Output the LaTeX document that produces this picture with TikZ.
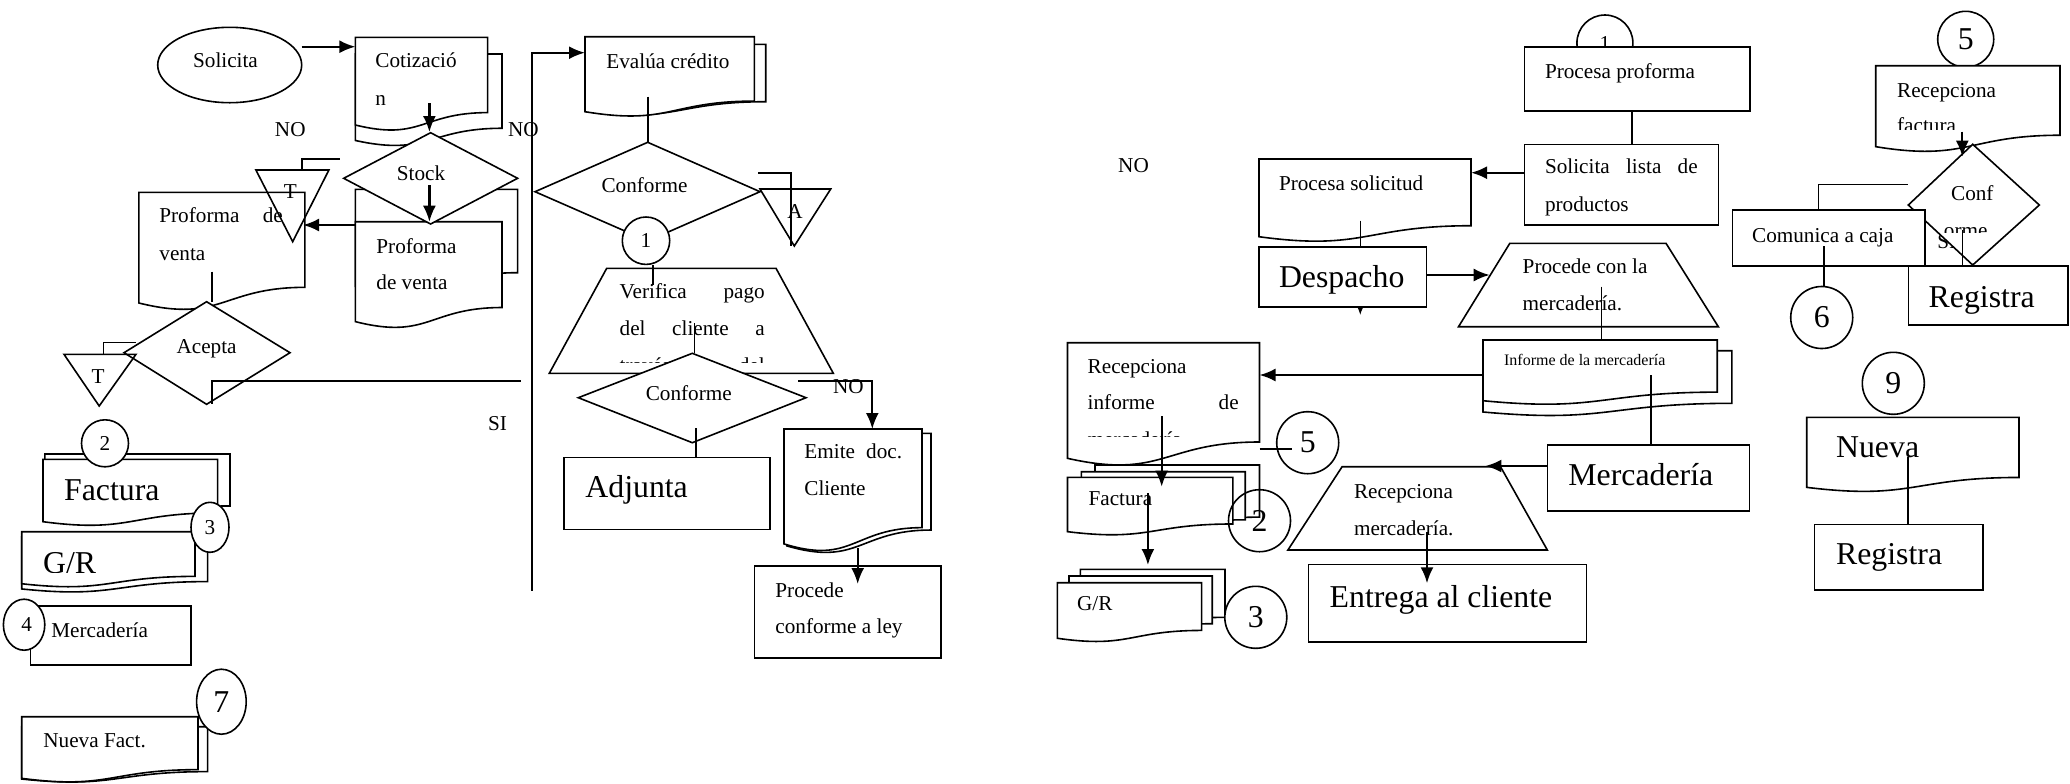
\documentclass[tikz,border=0pt]{standalone}
\usepackage{fontspec}
\setmainfont{Liberation Serif}
\usetikzlibrary{arrows.meta,shapes.geometric}
\newcommand\fN{\fontsize{10.6}{12}\selectfont}
\newcommand\fL{\fontsize{15.9}{18}\selectfont}
\newcommand\fS{\fontsize{8}{9.6}\selectfont}
\tikzset{
 shp/.style={draw=black, line width=0.8pt, fill=white},
 ln/.style={draw=black, line width=0.8pt},
 arr/.style={draw=black, line width=1.1pt, -{Latex[length=8pt,width=6.5pt]}},
 rbox/.style={shp, rectangle, inner sep=0pt},
 cbox/.style={shp, circle, inner sep=0pt, font=\fL},
 tN/.style={inner sep=0pt, anchor=base west, yshift=-3.5pt, font=\fN},
 tNc/.style={inner sep=0pt, anchor=base, yshift=-3.5pt, font=\fN},
 tL/.style={inner sep=0pt, anchor=base west, yshift=-5.3pt, font=\fL},
 tS/.style={inner sep=0pt, anchor=base west, yshift=-2.7pt, font=\fS},
}
% document shape: name, x1, y1, x2, h
\newcommand\docsh[5]{%
 \pgfmathsetmacro\dA{#3+0.802*#5}%
 \pgfmathsetmacro\dB{#3+1.1075*#5}%
 \pgfmathsetmacro\dC{#3+0.934*#5}%
 \pgfmathsetmacro\dM{(#2+#4)/2}%
 \draw[shp] (#2,#3) -- (#4,#3) -- (#4,\dA) .. controls (\dM,\dA) and (\dM,\dB) .. (#2,\dC) -- cycle;
 \coordinate (#1) at (\dM,#3);}
\begin{document}
\begin{tikzpicture}[x=0.5pt,y=-0.5pt]
\useasboundingbox (0,0) rectangle (2070,783);
% ================= LEFT =================
\node[shp, ellipse, minimum width=72pt, minimum height=37.7pt, inner sep=0pt] (solicita) at (229.7,65) {};
\node[tNc] (tsol) at (225.5,60) {Solicita};
\coordinate (a1s) at (301.7,46.7); \coordinate (a1e) at (355.4,46.7);
\draw[arr] (a1s) -- (a1e);
\docsh{cotb}{355.4}{54}{502}{92.6}
\docsh{cotf}{355.4}{37.3}{487.6}{93.9}
\node[tN] (tcot1) at (375,60) {Cotizació};
\node[tN] (tcot2) at (375,98.3) {n};
\docsh{prb}{355.4}{189.3}{517.6}{104}
\docsh{prf}{355.4}{221.7}{502}{107}
\node[tN] (tpr1) at (376,246) {Proforma};
\node[tN] (tpr2) at (376,282.7) {de venta};
\coordinate (stkW) at (343.7,178.3); \coordinate (stkN) at (430.6,132.7);
\coordinate (stkE) at (517.6,178.3); \coordinate (stkS) at (430.6,224);
\draw[shp] (stkW) -- (stkN) -- (stkE) -- (stkS) -- cycle;
\node[tNc] (tstk) at (421,173.3) {Stock};
\coordinate (cotIn) at (429.4,103.3); \coordinate (stkTop) at (429.4,132);
\draw[arr] (cotIn) -- (stkTop);
\coordinate (stkIn) at (429.4,185); \coordinate (prfTop) at (429.4,221.7);
\draw[arr] (stkIn) -- (prfTop);
\docsh{pl}{138.8}{192.3}{304.8}{118.5}
\node[tN] (tpl1) at (159,215) {\makebox[61.7pt][s]{Proforma de}};
\node[tN] (tpl2) at (159,253.3) {venta};
\coordinate (t1a) at (255.9,170); \coordinate (t1b) at (328.9,170); \coordinate (t1c) at (292.7,241.7);
\draw[ln] (t1a) -- (t1b) -- (t1c) -- cycle;
\node[tNc] (tt1) at (290.3,191) {T};
\coordinate (t1s) at (301.7,170); \coordinate (t1e) at (340.2,159);
\draw[ln] (t1s) |- (t1e);
\coordinate (prW) at (355.4,225); \coordinate (plE) at (303,225);
\draw[arr] (prW) -- (plE);
\coordinate (plIn) at (211.8,271.7); \coordinate (acN) at (206.6,301.7);
\draw[ln] (plIn) -- (211.8,301.7);
\coordinate (acW) at (124,352.7); \coordinate (acE) at (290,352.7); \coordinate (acS) at (206.6,404.3);
\draw[shp] (acW) -- (acN) -- (acE) -- (acS) -- cycle;
\node[tNc] (tac) at (206.6,346.7) {Acepta};
\coordinate (t2a) at (64,354.3); \coordinate (t2b) at (136,354.3); \coordinate (t2c) at (99.2,406);
\draw[ln] (t2a) -- (t2b) -- (t2c) -- cycle;
\node[tNc] (tt2) at (98,376) {T};
\coordinate (t2s) at (103.3,354.3); \coordinate (t2e) at (136,342.3);
\draw[ln] (t2s) |- (t2e);
\coordinate (hR) at (520.7,381); \coordinate (hL) at (211.8,381); \coordinate (hD) at (211.8,404.3);
\draw[ln] (hR) -- (hL) -- (hD);
\coordinate (vBot) at (532,590.7); \coordinate (vTop) at (532,52.7); \coordinate (evW) at (585,52.7);
\draw[arr] (vBot) -- (vTop) -- (evW);
\node[tNc] (no1) at (290.3,129.3) {NO};
\node[tNc] (no2) at (523.4,129.3) {NO};
\node[tNc] (si1) at (497.6,423.3) {SI};
% Factura / G/R / Mercaderia / Nueva Fact.
\docsh{fb}{44.8}{454}{230}{64.8}
\docsh{ff}{43}{459.3}{217.6}{66.8}
\node[tL] (tfac) at (63.7,490) {Factura};
\node[cbox, font=\fN, minimum size=23.5pt] (c2l) at (105,443.3) {2};
\docsh{gb}{21.7}{537}{207.6}{55.6}
\docsh{gf}{21.7}{531.7}{195}{55.7}
\begin{scope}
\clip (21.7,531.7) rectangle (195,572.5);
\node[tL] (tgr) at (42.7,562.5) {G/R};
\end{scope}
\node[shp, ellipse, inner sep=0pt, minimum width=19pt, minimum height=25pt, font=\fN] (c3l) at (210,527.3) {3};
\node[rbox, minimum width=80.4pt, minimum height=29.65pt] (merl) at (110.7,635.35) {};
\node[tN] (tmerl) at (51,630) {Mercadería};
\node[shp, ellipse, inner sep=0pt, minimum width=20.7pt, minimum height=25.5pt, font=\fN] (c4l) at (24.1,624.7) {\hspace{2.5pt}4};
\docsh{nfb}{21.7}{726.7}{207.6}{56}
\docsh{nff}{21.7}{716.7}{198}{66}
\node[tN] (tnf) at (43,740) {Nueva Fact.};
\node[shp, ellipse, inner sep=0pt, minimum width=24.8pt, minimum height=32.5pt, font=\fL] (c7l) at (221.4,701.7) {7};
% ================= MIDDLE =================
\docsh{evb}{585}{44.3}{765.7}{71.6}
\docsh{evf}{585}{36.7}{754.3}{80.3}
\node[tN] (tev) at (606,61.7) {Evalúa crédito};
\coordinate (evIn) at (647.7,96.7); \coordinate (cf1N) at (647.7,142.3);
\draw[ln] (evIn) -- (cf1N);
\coordinate (cf1W) at (535,191.7); \coordinate (cf1E) at (760,191.7); \coordinate (cf1S) at (647.7,241);
\draw[shp] (cf1W) -- (cf1N) -- (cf1E) -- (cf1S) -- cycle;
\node[tNc] (tcf1) at (644.5,185) {Conforme};
\coordinate (taA) at (760,189); \coordinate (taB) at (830.7,189); \coordinate (taC) at (794.3,246);
\draw[ln] (taA) -- (taB) -- (taC) -- cycle;
\node[tNc] (tA) at (795,211.7) {A};
\coordinate (laS) at (758.3,172.7); \coordinate (laE) at (791,246);
\draw[ln] (laS) -| (laE);
\node[cbox, font=\fN, minimum size=23.7pt] (c1m) at (646,240.7) {1};
\coordinate (trA) at (606.7,268.3); \coordinate (trB) at (776,268.3);
\coordinate (trC) at (833.3,373.3); \coordinate (trD) at (549.3,373.3);
\draw[shp] (trA) -- (trB) -- (trC) -- (trD) -- cycle;
\node[tN] (tv1) at (619.3,291.7) {\makebox[72.5pt][s]{Verifica pago}};
\node[tN] (tv2) at (619.3,328.3) {\makebox[72.5pt][s]{del cliente a}};
\begin{scope}
\clip (549.3,340) rectangle (833.3,362.7);
\node[tN] (tv3) at (619.3,365) {\makebox[72.5pt][s]{través del}};
\end{scope}
\coordinate (c1mS) at (652.7,265); \coordinate (vIn) at (652.7,285);
\draw[ln] (c1mS) -- (vIn);
\coordinate (vIn2) at (694.3,323.3); \coordinate (cf2N) at (692.3,353.3);
\draw[ln] (vIn2) -- (694.3,353.3);
\coordinate (cf2W) at (578.3,397.7); \coordinate (cf2E) at (806,397.7); \coordinate (cf2S) at (692.3,442.7);
\draw[shp] (cf2W) -- (cf2N) -- (cf2E) -- (cf2S) -- cycle;
\node[tNc] (tcf2) at (688.8,393.3) {Conforme};
\docsh{emb}{787}{433.3}{931}{120.6}
\docsh{emf}{784}{429}{922}{123}
\node[tN] (tem1) at (804,451.7) {\makebox[48.85pt][s]{Emite doc.}};
\node[tN] (tem2) at (804,488.3) {Cliente};
\coordinate (noS) at (798.3,380.7); \coordinate (emTop) at (872.3,429);
\draw[arr] (noS) -| (emTop);
\node[tNc] (no3) at (848.3,386.7) {NO};
\node[rbox, minimum width=93.2pt, minimum height=46pt] (proc) at (847.5,611.7) {};
\node[tN] (tproc1) at (775,590) {Procede};
\node[tN] (tproc2) at (775,626.7) {conforme a ley};
\coordinate (emIn) at (857.7,548.3); \coordinate (procIn) at (857.7,584);
\draw[arr] (emIn) -- (procIn);
\node[rbox, minimum width=103pt, minimum height=36pt] (adj) at (666.7,493.3) {};
\node[tL] (tadj) at (585,486.7) {Adjunta};
\coordinate (cf2In) at (695.7,428.3);
\draw[ln] (cf2In) -- (adj.north -| cf2In);
% ================= RIGHT =================
\node[tNc] (no4) at (1133.5,165.7) {NO};
\node[cbox, font=\fN, minimum size=28pt] (c1r) at (1604.9,43) {1};
\node[rbox, minimum width=112.7pt, minimum height=32.15pt] (pprof) at (1637.3,78.85) {};
\node[tN] (tpprof) at (1544.6,71.7) {Procesa proforma};
\node[rbox, minimum width=96.85pt, minimum height=40.35pt] (slista) at (1621.45,184.65) {};
\node[tN] (tsl1) at (1544.6,166.7) {\makebox[76.35pt][s]{Solicita lista de}};
\node[tN] (tsl2) at (1544.6,204) {productos};
\coordinate (ppS) at (1631.7,111);
\draw[ln] (ppS) -- (slista.north -| ppS);
\docsh{psd}{1259}{159}{1471}{83.2}
\node[tN] (tpsd) at (1278.6,183.3) {Procesa solicitud};
\coordinate (slW) at (1524.6,172.7); \coordinate (psE) at (1471,172.7);
\draw[arr] (slW) -- (psE);
\node[rbox, minimum width=83.65pt, minimum height=30pt] (desp) at (1342.65,276.7) {};
\node[tL] (tdesp) at (1278.6,276.7) {Despacho};
\coordinate (psIn) at (1360.3,220.7);
\draw[ln] (psIn) -- (desp.north -| psIn);
\coordinate (dpS) at (1360.3,306.7); \coordinate (dpT) at (1360.3,315);
\draw[line width=0.5pt, -{Latex[length=4pt,width=3pt]}] (dpS) -- (dpT);
\coordinate (tzA) at (1509.8,243.3); \coordinate (tzB) at (1666,243.3);
\coordinate (tzC) at (1718.3,326.7); \coordinate (tzD) at (1458.5,326.7);
\draw[shp] (tzA) -- (tzB) -- (tzC) -- (tzD) -- cycle;
\node[tN] (ttz1) at (1522.3,266.7) {Procede con la};
\node[tN] (ttz2) at (1522.3,303.3) {mercadería.};
\coordinate (dpE) at (1426.3,275); \coordinate (tzW) at (1489.7,275);
\draw[arr] (dpE) -- (tzW);
\docsh{inb}{1483}{350.7}{1731.9}{65.6}
\docsh{inf}{1483}{340}{1717.2}{65}
\node[tS] (tinf) at (1503.7,360) {Informe de la mercadería};
\coordinate (tzIn) at (1601.3,286.7); \coordinate (infTop) at (1601.3,340);
\draw[ln] (tzIn) -- (infTop);
\docsh{rid}{1067.5}{342.7}{1259.5}{123.8}
\node[tN] (tri1) at (1087.3,366) {Recepciona};
\node[tN] (tri2) at (1087.3,402.7) {\makebox[75.5pt][s]{informe de}};
\begin{scope}
\clip (1067.5,420) rectangle (1259.5,436);
\node[tN] (tri3) at (1087.3,439.4) {mercadería};
\end{scope}
\coordinate (infW) at (1483,375); \coordinate (riE) at (1259.5,375);
\draw[arr] (infW) -- (riE);
\docsh{frb}{1095}{465}{1259.5}{65}
\docsh{frm}{1081.3}{471.7}{1245.2}{60}
\docsh{frf}{1067.5}{477.3}{1232.8}{58.2}
\node[tN] (tfr) at (1088.2,498.3) {Factura};
\coordinate (riIn) at (1161.7,416); \coordinate (frIn) at (1161.7,486.7);
\draw[arr] (riIn) -- (frIn);
\node[cbox, minimum size=31pt] (c5r) at (1307.7,442.7) {5};
\coordinate (l5s) at (1259.5,449); \coordinate (l5e) at (1291.6,449);
\draw[ln] (l5s) -- (l5e);
\node[ln, circle, inner sep=0pt, minimum size=31pt, font=\fL] (c2r) at (1259.5,520.7) {2};
\docsh{grb2}{1080.4}{569.3}{1225}{59.9}
\docsh{grm2}{1069}{576}{1212.2}{59.5}
\docsh{grf2}{1057.4}{582.7}{1201.6}{59.5}
\node[tN] (tgr2) at (1076.7,603.3) {G/R};
\coordinate (frIn2) at (1147.9,493.3); \coordinate (grTop) at (1147.9,565);
\draw[arr] (frIn2) -- (grTop);
\node[cbox, minimum size=31pt] (c3r) at (1255.8,617.3) {3};
\node[rbox, minimum width=101.05pt, minimum height=33pt] (merr) at (1648.35,478) {};
\node[tL] (tmerr) at (1568,475) {Mercadería};
\coordinate (infIn) at (1650.7,375);
\draw[ln] (infIn) -- (merr.north -| infIn);
\coordinate (rmA) at (1342.1,466.7); \coordinate (rmB) at (1500.5,466.7);
\coordinate (rmC) at (1547.3,550); \coordinate (rmD) at (1287.9,550);
\draw[shp] (rmA) -- (rmB) -- (rmC) -- (rmD) -- cycle;
\node[tN] (trm1) at (1353.6,491.7) {Recepciona};
\node[tN] (trm2) at (1353.6,528.3) {mercadería.};
\coordinate (mrW) at (1547.3,466); \coordinate (rmTop) at (1485.4,466);
\draw[arr] (mrW) -- (rmTop);
\node[rbox, minimum width=138.9pt, minimum height=38.7pt] (entr) at (1447.5,603) {};
\node[tL] (tentr) at (1329.3,596.7) {Entrega al cliente};
\coordinate (rmIn) at (1427,531.7); \coordinate (enIn) at (1427,583.3);
\draw[arr] (rmIn) -- (enIn);
% ================= FAR RIGHT =================
\node[cbox, minimum size=28pt] (c5t) at (1965.7,39.3) {5};
\docsh{rfd}{1875.7}{65.7}{2060}{86.7}
\node[tN] (trf1) at (1896.7,90) {Recepciona};
\begin{scope}
\clip (1875.7,100) rectangle (2060,129.3);
\node[tN] (trf2) at (1896.7,125) {factura};
\end{scope}
\begin{scope}
\clip (1900,232.3) rectangle (1990,265);
\node[tN] (tsi2) at (1937,241.7) {SI};
\end{scope}
\coordinate (dfW) at (1908.3,205); \coordinate (dfN) at (1972.7,144.3);
\coordinate (dfE) at (2039.3,205); \coordinate (dfS) at (1972.7,265);
\draw[shp] (dfW) -- (dfN) -- (dfE) -- (dfS) -- cycle;
\node[tNc] (tdf1) at (1972.3,193.3) {Conf};
\begin{scope}
\clip (1900,200) rectangle (2040,232.3);
\node[tNc] (tdf2) at (1965.7,230) {orme};
\end{scope}
\coordinate (rfIn) at (1962.3,131.7); \coordinate (dfTop) at (1962.3,156.7);
\draw[arr] (rfIn) -- (dfTop);
\node[rbox, minimum width=96.35pt, minimum height=27.85pt] (comu) at (1828.65,237.85) {};
\node[tN] (tcomu) at (1751.7,235) {Comunica a caja};
\coordinate (cmTop) at (1818.3,210); \coordinate (cmE) at (1908.3,184.3);
\draw[ln] (cmTop) |- (cmE);
\node[cbox, minimum size=31pt] (c6) at (1821.7,317.5) {6};
\coordinate (cmIn) at (1824,246);
\draw[ln] (cmIn) -- (c6.north -| cmIn);
\node[rbox, minimum width=79.85pt, minimum height=29.65pt] (regi) at (1988.15,295.35) {};
\node[tL] (tregi) at (1928.3,296.7) {Registra};
\coordinate (dfIn) at (1962.3,230);
\draw[ln] (dfIn) -- (regi.north -| dfIn);
\node[cbox, minimum size=31pt] (c9) at (1893.3,383.3) {9};
\docsh{nvd}{1806.7}{417.3}{2019}{75}
\node[tL] (tnv) at (1835.7,446.7) {Nueva};
\node[rbox, minimum width=84.2pt, minimum height=32.85pt] (reg2) at (1898.5,557.15) {};
\node[tL] (treg2) at (1835.7,554) {Registra};
\coordinate (nvIn) at (1907.7,456.7);
\draw[ln] (nvIn) -- (reg2.north -| nvIn);
\end{tikzpicture}
\end{document}
